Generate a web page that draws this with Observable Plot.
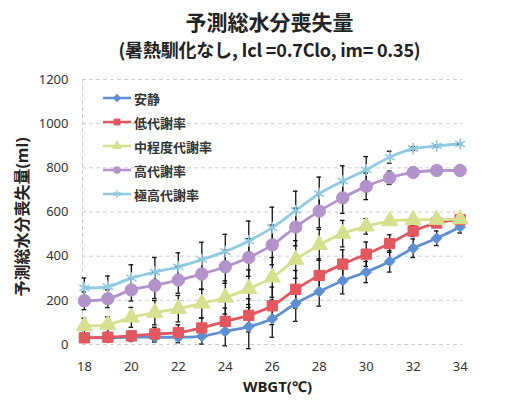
<!DOCTYPE html>
<html><head><meta charset="utf-8">
<script src="https://cdn.jsdelivr.net/npm/d3@7"></script>
<script src="https://cdn.jsdelivr.net/npm/@observablehq/plot@0.6"></script>
<style>
body{margin:0;background:#fff;font-family:"Noto Sans CJK JP","Noto Sans",sans-serif;}
#wrap{position:relative;width:519px;height:405px;overflow:hidden;background:#fff;}
#title{position:absolute;top:7px;left:10px;width:519px;text-align:center;font-weight:bold;color:#222;z-index:2;}
#t1{font-size:21px;line-height:28px;}
#t2{font-size:18px;line-height:28px;letter-spacing:-0.2px;}
#chart{position:absolute;top:62px;left:0;z-index:1;}
#legend{position:absolute;left:102px;top:86px;font-size:13px;font-weight:bold;color:#333;z-index:3;}
.item{height:24px;display:flex;align-items:center;}
.item svg{margin-right:2px;}
</style></head>
<body><div id="wrap">
<div id="chart"></div>
<div id="title"><div id="t1">予測総水分喪失量</div><div id="t2">(暑熱馴化なし, Icl =0.7Clo, im= 0.35)</div></div>
<div id="legend"></div></div>
<script>
const wbgt = [18,19,20,21,22,23,24,25,26,27,28,29,30,31,32,33,34];
const xTicks = [18,20,22,24,26,28,30,32,34];
const yTicks = [0,200,400,600,800,1000,1200];
const seriesNames = ["安静","低代謝率","中程度代謝率","高代謝率","極高代謝率"];
const seriesColors = ["#5f8fd3","#e3575f","#d6e08e","#b393cb","#90cbe2"];
const seriesSymbols = ["diamond2","square","triangle","circle","asterisk"];

const restVals  = [30,30,33,33,33,37,60,81,117,186,240,289,328,376,436,481,532];
const lowVals   = [30,33,39,48,54,75,105,132,175,250,313,364,409,457,514,550,565];
const midVals   = [84,90,123,144,162,186,213,253,304,385,451,502,535,559,565,565,568];
const highVals  = [198,207,247,268,292,319,352,394,451,532,604,664,716,755,779,788,788];
const xhighVals = [256,262,301,328,352,385,421,469,529,607,683,740,791,848,887,899,908];

const restErr  = [15,15,18,22,25,35,66,100,84,81,66,60,48,48,42,33,27];
const lowErr   = [12,14,20,30,35,45,60,75,85,85,75,65,55,40,25,15,10];
const midErr   = [35,35,45,55,60,65,75,85,90,85,70,60,35,15,6,5,5];
const highErr  = [40,40,50,60,60,70,75,85,90,85,75,70,60,30,10,5,5];
const xhighErr = [45,48,60,66,63,78,78,90,93,87,75,69,60,27,8,5,3];

const allVals = [restVals,lowVals,midVals,highVals,xhighVals];
const allErr = [restErr,lowErr,midErr,highErr,xhighErr];

const rows = [];
seriesNames.forEach((s,i)=>wbgt.forEach((x,j)=>rows.push({series:s, idx:i, x, y:allVals[i][j], e:allErr[i][j]})));

const xMin = 17.92, xMax = 34.1;
const marks = [
  Plot.ruleY(yTicks, {stroke:"#cfcfcf", strokeDasharray:"4,3", strokeWidth:1}),
  Plot.ruleX([xMin], {stroke:"#cfcfcf", strokeDasharray:"4,3", strokeWidth:1}),
  Plot.axisX({ticks:xTicks, tickSize:0, tickPadding:17, fontSize:13, label:null, fill:"#333"}),
  Plot.axisY({ticks:yTicks, tickSize:0, tickPadding:14, fontSize:13, label:null, fill:"#333", tickFormat:d=>String(d)}),
  Plot.text(["予測総水分喪失量(ml)"], {frameAnchor:"left", textAnchor:"middle", rotate:-90, dx:-60, dy:5, fontWeight:"bold", fontSize:16, fill:"#222"}),
  Plot.text(["WBGT(℃)"], {frameAnchor:"bottom", dy:47, dx:5, fontWeight:"bold", fontSize:15, fill:"#222"})
];
seriesNames.forEach((s,i)=>{
  const d = rows.filter(r=>r.idx===i);
  marks.push(Plot.line(d, {x:"x", y:"y", stroke:seriesColors[i], strokeWidth:2.8, curve:"catmull-rom"}));
});
seriesNames.forEach((s,i)=>{
  const d = rows.filter(r=>r.idx===i);
  marks.push(Plot.ruleX(d, {x:"x", y1:r=>r.y-r.e, y2:r=>r.y+r.e, stroke:"#111", strokeWidth:1.3}));
  marks.push(Plot.ruleY(d, {y:r=>r.y+r.e, x1:r=>r.x-0.1, x2:r=>r.x+0.1, stroke:"#111", strokeWidth:1.3}));
  marks.push(Plot.ruleY(d, {y:r=>r.y-r.e, x1:r=>r.x-0.1, x2:r=>r.x+0.1, stroke:"#111", strokeWidth:1.3}));
});
const rSizes = [4.8,5.8,6,6.2,5.5];
seriesNames.forEach((s,i)=>{
  const d = rows.filter(r=>r.idx===i);
  if (seriesSymbols[i]==="asterisk")
    marks.push(Plot.dot(d, {x:"x", y:"y", symbol:"asterisk", r:rSizes[i], stroke:seriesColors[i], strokeWidth:1.6, fill:"none"}));
  else
    marks.push(Plot.dot(d, {x:"x", y:"y", symbol:seriesSymbols[i], r:rSizes[i], fill:seriesColors[i], stroke:seriesColors[i], strokeWidth:1}));
});

const chart = Plot.plot({
  width:519, height:343,
  marginLeft:82, marginRight:57, marginTop:17, marginBottom:61,
  x:{domain:[xMin,xMax]},
  y:{domain:[0,1200]},
  style:{fontFamily:"'Noto Sans', 'Noto Sans CJK JP', sans-serif", background:"transparent"},
  marks
});
document.getElementById("chart").appendChild(chart);

// legend
const symMap = {diamond2:d3.symbolDiamond2, square:d3.symbolSquare, triangle:d3.symbolTriangle, circle:d3.symbolCircle, asterisk:d3.symbolAsterisk};
const leg = d3.select("#legend");
seriesNames.forEach((s,i)=>{
  const it = leg.append("div").attr("class","item");
  const sv = it.append("svg").attr("width",30).attr("height",14);
  sv.append("line").attr("x1",1).attr("x2",29).attr("y1",7).attr("y2",7).attr("stroke",seriesColors[i]).attr("stroke-width",2.5);
  const p = sv.append("path").attr("transform","translate(15,7)").attr("d", d3.symbol(symMap[seriesSymbols[i]], 45)());
  if (seriesSymbols[i]==="asterisk") p.attr("fill","none").attr("stroke",seriesColors[i]).attr("stroke-width",1.3);
  else p.attr("fill",seriesColors[i]);
  it.append("span").text(s);
});
</script>
</body></html>
